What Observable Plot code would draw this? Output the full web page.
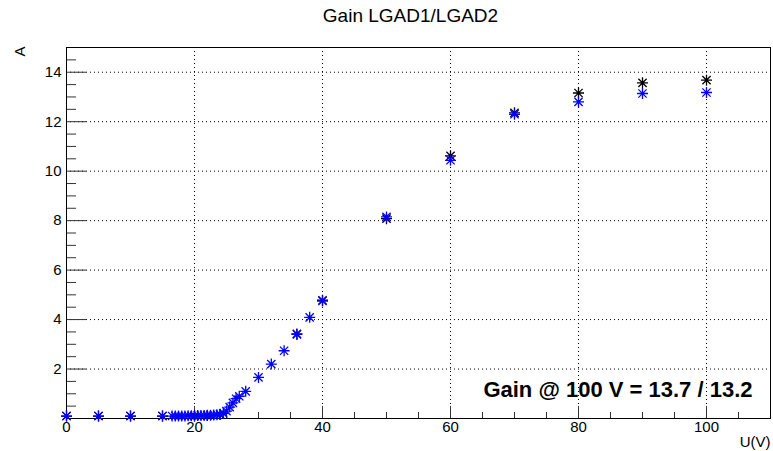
<!DOCTYPE html>
<html>
<head>
<meta charset="utf-8">
<script src="https://cdn.jsdelivr.net/npm/d3@7"></script>
<script src="https://cdn.jsdelivr.net/npm/@observablehq/plot@0.6"></script>
<style>
  html, body { margin: 0; padding: 0; background: #fff; }
  svg { display: block; font-family: "Liberation Sans", Arial, sans-serif; }
</style>
</head>
<body>
<div id="chart"></div>
<script>
const title = "Gain LGAD1/LGAD2";
const xLabel = "U(V)";
const yLabel = "A";
const annotation = "Gain @ 100 V = 13.7 / 13.2";

// LGAD2 (blue)
const voltageBlue = [0, 5, 10, 15, 16.5, 17, 17.5, 18, 18.5, 19, 19.5, 20, 20.5, 21, 21.5, 22, 22.5, 23, 23.5, 24, 24.5, 25, 25.5, 26, 26.5, 27, 28, 30, 32, 34, 36, 38, 40, 50, 60, 70, 80, 90, 100];
const gainBlue    = [0.1, 0.1, 0.1, 0.1, 0.1, 0.1, 0.1, 0.1, 0.1, 0.11, 0.11, 0.11, 0.12, 0.12, 0.12, 0.13, 0.13, 0.14, 0.15, 0.17, 0.21, 0.3, 0.46, 0.63, 0.8, 0.9, 1.1, 1.66, 2.2, 2.74, 3.4, 4.09, 4.75, 8.15, 10.44, 12.3, 12.8, 13.14, 13.18];

// LGAD1 (black)
const voltageBlack = [0, 5, 10, 15, 20, 22, 24, 36, 40, 50, 60, 70, 80, 90, 100];
const gainBlack    = [0.1, 0.1, 0.1, 0.1, 0.1, 0.12, 0.16, 3.42, 4.78, 8.08, 10.62, 12.36, 13.16, 13.57, 13.68];

const xMajor = [0, 20, 40, 60, 80, 100];
const xMinor = [5, 10, 15, 25, 30, 35, 45, 50, 55, 65, 70, 75, 85, 90, 95, 105];
const xGrid = [20, 40, 60, 80, 100];
const yMajor = [2, 4, 6, 8, 10, 12, 14];
const yMinor = [0.5, 1, 1.5, 2.5, 3, 3.5, 4.5, 5, 5.5, 6.5, 7, 7.5, 8.5, 9, 9.5, 10.5, 11, 11.5, 12.5, 13, 13.5, 14.5];

const blue = voltageBlue.map((v, i) => ({v, g: gainBlue[i]}));
const black = voltageBlack.map((v, i) => ({v, g: gainBlack[i]}));

// ROOT-like star marker (8 arms)
const star = {
  draw(context, size) {
    const r = Math.sqrt(size / Math.PI);
    const d = r * 0.75;
    context.moveTo(-r, 0); context.lineTo(r, 0);
    context.moveTo(0, -r); context.lineTo(0, r);
    context.moveTo(-d, -d); context.lineTo(d, d);
    context.moveTo(-d, d); context.lineTo(d, -d);
  }
};

const W = 773, H = 451;
const mL = 66, mR = 3, mT = 47, mB = 33;
const fw = W - mL - mR, fh = H - mT - mB;

const chart = Plot.plot({
  width: W,
  height: H,
  marginLeft: mL,
  marginRight: mR,
  marginTop: mT,
  marginBottom: mB,
  style: {fontFamily: "Liberation Sans, Arial, sans-serif", background: "#fff"},
  x: {domain: [0, 110]},
  y: {domain: [0, 15]},
  marks: [
    // grid
    Plot.ruleX(xGrid, {x: d => d, stroke: "#000", strokeWidth: 1, strokeDasharray: "1,3"}),
    Plot.ruleY(yMajor, {y: d => d, stroke: "#000", strokeWidth: 1, strokeDasharray: "1,3"}),
    // ticks (pointing inward)
    Plot.ruleX(xMajor, {x: d => d, insetTop: fh - 12, stroke: "#333"}),
    Plot.ruleX(xMinor, {x: d => d, insetTop: fh - 6, stroke: "#333"}),
    Plot.ruleY(yMajor, {y: d => d, insetRight: fw - 20, stroke: "#333"}),
    Plot.ruleY(yMinor, {y: d => d, insetRight: fw - 10, stroke: "#333"}),
    Plot.frame({stroke: "#000", strokeWidth: 1}),
    // tick labels
    Plot.axisX({ticks: xMajor, tickSize: 0, tickPadding: 3, fontSize: 15, label: null, tickFormat: d => String(d)}),
    Plot.axisY({ticks: yMajor, tickSize: 0, tickPadding: 5, fontSize: 15, label: null, tickFormat: d => String(d)}),
    // data
    Plot.dot(black, {x: "v", y: "g", symbol: star, r: 5.5, fill: "none", stroke: "#000", strokeWidth: 1.3}),
    Plot.dot(blue, {x: "v", y: "g", symbol: star, r: 5.5, fill: "none", stroke: "#0000ff", strokeWidth: 1.3}),
    // texts
    Plot.text([title], {text: d => d, frameAnchor: "top", dx: -8, dy: -32, lineAnchor: "middle", fontSize: 19, fill: "#000"}),
    Plot.text([xLabel], {text: d => d, frameAnchor: "bottom-right", textAnchor: "end", lineAnchor: "bottom", dy: 28, fontSize: 15, fill: "#000"}),
    Plot.text([yLabel], {text: d => d, frameAnchor: "top-left", textAnchor: "end", lineAnchor: "bottom", rotate: -90, dx: -42, dy: -1, fontSize: 15, fill: "#000"}),
    Plot.text([annotation], {text: d => d, frameAnchor: "bottom-right", textAnchor: "end", lineAnchor: "bottom", dx: -18, dy: -22, fontSize: 22, fontWeight: "bold", fill: "#000"})
  ]
});
document.getElementById("chart").appendChild(chart);
</script>
</body>
</html>
